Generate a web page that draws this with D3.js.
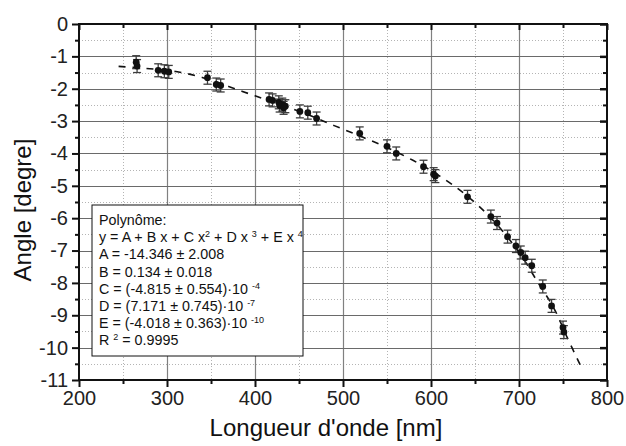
<!DOCTYPE html>
<html><head><meta charset="utf-8">
<script src="https://cdn.jsdelivr.net/npm/d3@7"></script>
<style>
html,body{margin:0;padding:0;background:#fff;}
svg{display:block;font-family:"Liberation Sans",Arial,sans-serif;}
</style></head>
<body><svg id="chart" width="626" height="446"></svg>
<script>
// ---- data ----
const wavelength = [265, 266, 290, 297, 302, 346, 356, 361, 416, 420, 427, 428, 431, 432.5, 434.5, 451, 460, 470, 519, 550, 560.5, 591.5, 603, 605, 641.5, 668, 675, 687, 696.5, 702, 707, 714.5, 727, 737, 750, 751];
const angle = [-1.18, -1.30, -1.43, -1.46, -1.48, -1.66, -1.87, -1.90, -2.33, -2.36, -2.42, -2.52, -2.49, -2.59, -2.54, -2.70, -2.74, -2.92, -3.38, -3.78, -4.00, -4.41, -4.64, -4.70, -5.34, -5.95, -6.15, -6.57, -6.86, -7.06, -7.22, -7.47, -8.11, -8.71, -9.38, -9.52];
const angleError = [0.2, 0.2, 0.2, 0.2, 0.2, 0.2, 0.2, 0.2, 0.2, 0.2, 0.2, 0.2, 0.2, 0.2, 0.2, 0.2, 0.2, 0.2, 0.2, 0.2, 0.2, 0.2, 0.2, 0.2, 0.2, 0.2, 0.2, 0.2, 0.2, 0.2, 0.2, 0.2, 0.2, 0.2, 0.2, 0.2];
// polynomial fit curve (dashed)
const fitX = [245, 275, 310, 340, 370, 400, 430, 460, 490, 520, 550, 580, 610, 640, 670, 700, 720, 740, 755, 770];
const fitY = [-1.31, -1.37, -1.47, -1.65, -1.93, -2.22, -2.50, -2.80, -3.14, -3.47, -3.82, -4.22, -4.70, -5.29, -6.05, -7.05, -7.92, -8.80, -9.70, -10.56];
const xTicks = [200, 300, 400, 500, 600, 700, 800];
const xMinorTicks = [250, 350, 450, 550, 650, 750];
const yTicks = [0, -1, -2, -3, -4, -5, -6, -7, -8, -9, -10, -11];
const yMinorTicks = [-0.5, -1.5, -2.5, -3.5, -4.5, -5.5, -6.5, -7.5, -8.5, -9.5, -10.5];
const xTitle = "Longueur d'onde [nm]";
const yTitle = "Angle [degre]";
const legendLines = [
  [["Polynôme:"]],
  [["y = A + B x + C x"], ["2", "sup"], [" + D x "], ["3", "sup"], [" + E x "], ["4", "sup"]],
  [["A = -14.346 ± 2.008"]],
  [["B = 0.134  ± 0.018"]],
  [["C = (-4.815 ± 0.554)·10 "], ["-4", "sup"]],
  [["D = (7.171 ± 0.745)·10 "], ["-7", "sup"]],
  [["E = (-4.018 ± 0.363)·10 "], ["-10", "sup"]],
  [["R "], ["2", "sup"], [" = 0.9995"]]
];

// ---- layout ----
const L = 79, R = 607, T = 24, B = 380;
const svg = d3.select("#chart");
const x = d3.scaleLinear().domain([200, 800]).range([L, R]);
const y = d3.scaleLinear().domain([-11, 0]).range([B, T]);

const snap = v => Math.round(v) + 0.5;

// grid: minor dotted
const grid = svg.append("g");
grid.selectAll(".vmin").data(xMinorTicks).join("line")
  .attr("x1", d => snap(x(d))).attr("x2", d => snap(x(d))).attr("y1", T).attr("y2", B)
  .attr("stroke", "#b4b4b4").attr("stroke-width", 1).attr("stroke-dasharray", "1,2");
grid.selectAll(".hmin").data(yMinorTicks).join("line")
  .attr("y1", d => snap(y(d))).attr("y2", d => snap(y(d))).attr("x1", L).attr("x2", R)
  .attr("stroke", "#b4b4b4").attr("stroke-width", 1).attr("stroke-dasharray", "1,2");
// grid: major solid
grid.selectAll(".vmaj").data(xTicks.slice(1, -1)).join("line")
  .attr("x1", d => snap(x(d))).attr("x2", d => snap(x(d))).attr("y1", T).attr("y2", B)
  .attr("stroke", "#808080").attr("stroke-width", 1.2);
grid.selectAll(".hmaj").data(yTicks.slice(1, -1)).join("line")
  .attr("y1", d => snap(y(d))).attr("y2", d => snap(y(d))).attr("x1", L).attr("x2", R)
  .attr("stroke", "#6a6a6a").attr("stroke-width", 1.2);

// legend box (under data)
const lg = svg.append("g");
lg.append("rect").attr("x", 92).attr("y", 205).attr("width", 211).attr("height", 151)
  .attr("fill", "#fff").attr("stroke", "#111").attr("stroke-width", 1);
const lt = lg.append("text").attr("font-size", 14).attr("fill", "#111");
legendLines.forEach((parts, i) => {
  const t = lg.append("text").attr("x", 99).attr("y", 225 + i * 17.2).attr("font-size", 14.3).attr("fill", "#111");
  parts.forEach(p => {
    const s = t.append("tspan").text(p[0]);
    if (p[1] === "sup") s.attr("font-size", 9).attr("baseline-shift", "5");
  });
});

// fit curve
const fitData = fitX.map((v, i) => [v, fitY[i]]);
svg.append("path").datum(fitData)
  .attr("d", d3.line().x(d => x(d[0])).y(d => y(d[1])).curve(d3.curveCatmullRom))
  .attr("fill", "none").attr("stroke", "#111").attr("stroke-width", 1.6)
  .attr("stroke-dasharray", "7,7");

// error bars and points
const pts = wavelength.map((v, i) => ({x: v, y: angle[i], e: angleError[i]}));
const eb = svg.append("g").attr("stroke", "#3c3c3c").attr("stroke-width", 1.3);
pts.forEach(p => {
  const cx = x(p.x);
  eb.append("line").attr("x1", cx).attr("x2", cx).attr("y1", y(p.y + p.e)).attr("y2", y(p.y - p.e));
  eb.append("line").attr("x1", cx - 4).attr("x2", cx + 4).attr("y1", y(p.y + p.e)).attr("y2", y(p.y + p.e));
  eb.append("line").attr("x1", cx - 4).attr("x2", cx + 4).attr("y1", y(p.y - p.e)).attr("y2", y(p.y - p.e));
});
svg.append("g").selectAll("circle").data(pts).join("circle")
  .attr("cx", d => x(d.x)).attr("cy", d => y(d.y)).attr("r", 3.4).attr("fill", "#111");

// axes
function styleAxis(g, width) {
  g.select(".domain").remove();
  g.selectAll(".tick line").attr("stroke", "#111").attr("stroke-width", width);
  g.selectAll("text").attr("font-size", 20).attr("fill", "#222")
    .attr("font-family", "'Liberation Sans', Arial, sans-serif");
}
const fmt = d => d3.format("d")(d).replace("−", "-");
const gB = svg.append("g").attr("transform", `translate(0,${B})`)
  .call(d3.axisBottom(x).tickValues(xTicks).tickSize(7).tickPadding(4).tickFormat(fmt));
styleAxis(gB, 2);
const gBm = svg.append("g").attr("transform", `translate(0,${B})`)
  .call(d3.axisBottom(x).tickValues(xMinorTicks).tickSize(4).tickFormat(""));
styleAxis(gBm, 2);
const gL = svg.append("g").attr("transform", `translate(${L},0)`)
  .call(d3.axisLeft(y).tickValues(yTicks).tickSize(7).tickPadding(4).tickFormat(fmt));
styleAxis(gL, 2);
const gLm = svg.append("g").attr("transform", `translate(${L},0)`)
  .call(d3.axisLeft(y).tickValues(yMinorTicks).tickSize(4).tickFormat(""));
styleAxis(gLm, 2);
const gT = svg.append("g").attr("transform", `translate(0,${T})`)
  .call(d3.axisBottom(x).tickValues(xTicks).tickSize(6).tickFormat(""));
styleAxis(gT, 2);
const gTm = svg.append("g").attr("transform", `translate(0,${T})`)
  .call(d3.axisBottom(x).tickValues(xMinorTicks).tickSize(4).tickFormat(""));
styleAxis(gTm, 2);
const gR = svg.append("g").attr("transform", `translate(${R},0)`)
  .call(d3.axisLeft(y).tickValues(yTicks).tickSize(7).tickFormat(""));
styleAxis(gR, 2.5);
const gRm = svg.append("g").attr("transform", `translate(${R},0)`)
  .call(d3.axisLeft(y).tickValues(yMinorTicks).tickSize(4).tickFormat(""));
styleAxis(gRm, 2);

// frame
svg.append("rect").attr("x", L).attr("y", T).attr("width", R - L).attr("height", B - T)
  .attr("fill", "none").attr("stroke", "#111").attr("stroke-width", 2);

// titles
svg.append("text").attr("x", 326).attr("y", 436).attr("text-anchor", "middle")
  .attr("font-size", 24).attr("fill", "#111").text(xTitle);
svg.append("text").attr("transform", "translate(31,210) rotate(-90)").attr("text-anchor", "middle")
  .attr("font-size", 24).attr("fill", "#111").text(yTitle);
</script>
</body></html>
